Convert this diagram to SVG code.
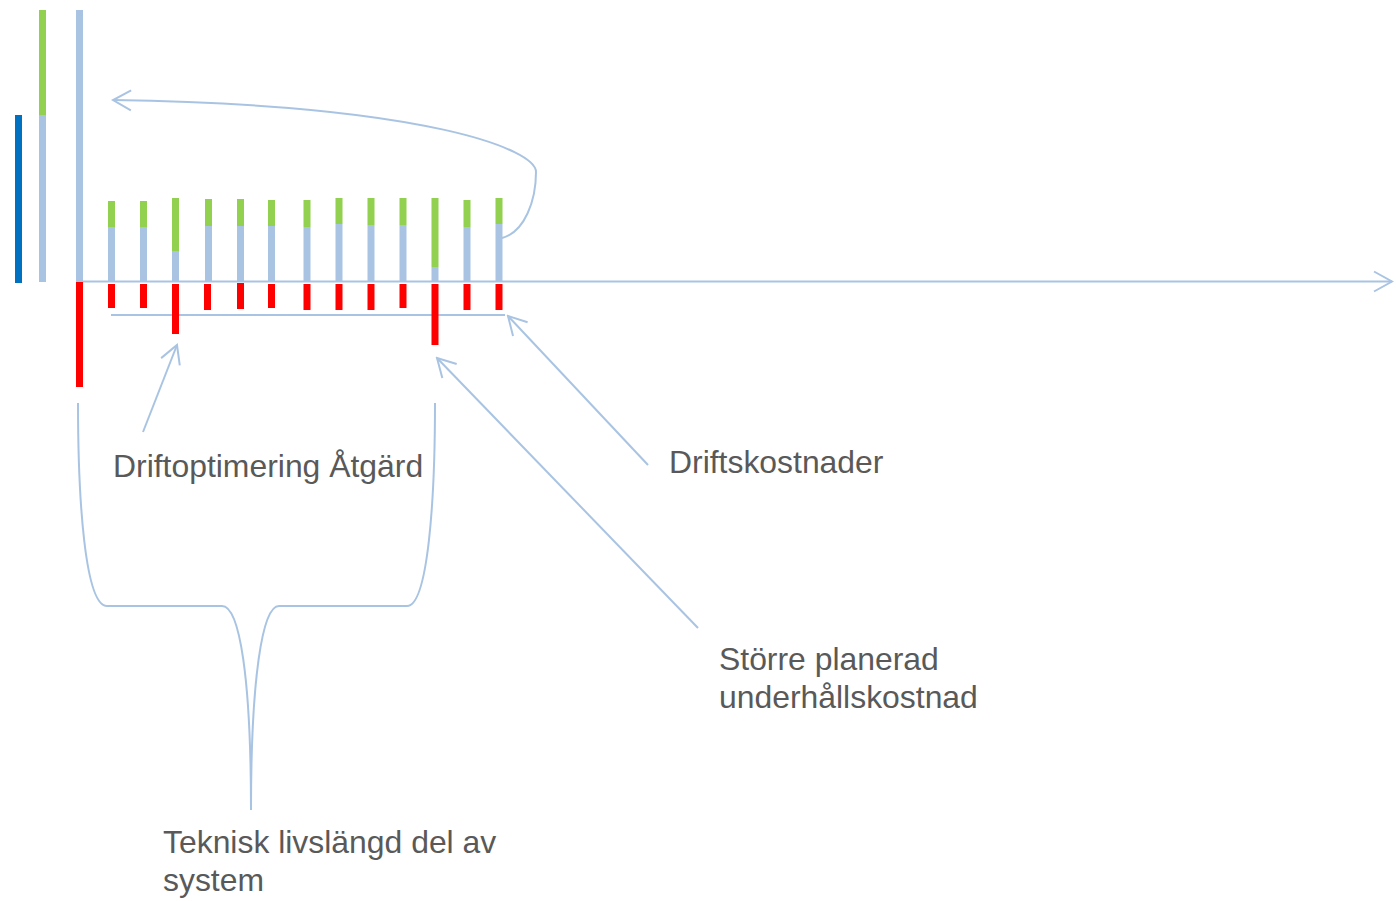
<svg xmlns="http://www.w3.org/2000/svg" width="1396" height="901" viewBox="0 0 1396 901">
<defs>
<style>
.lb{fill:#A9C4E2}
.gr{fill:#92D050}
.rd{fill:#FF0000}
.db{fill:#0070C0}
.ln{fill:none;stroke:#A9C4E2;stroke-width:2}
.tx{font-family:"Liberation Sans",Arial,sans-serif;font-size:31.9px;fill:#595959}
</style>
<marker id="ah" viewBox="-20 -12 22 24" refX="0" refY="0" markerWidth="22" markerHeight="24" markerUnits="userSpaceOnUse" orient="auto">
<path d="M-18,-10 L0,0 L-18,10" fill="none" stroke="#A9C4E2" stroke-width="2"/>
</marker>
</defs>
<rect width="1396" height="901" fill="#FFFFFF"/>

<g id="connectors">
<line class="ln" x1="82" y1="281.5" x2="1392" y2="281.5" marker-end="url(#ah)"/>
<line class="ln" x1="111" y1="315" x2="505" y2="315"/>
<path class="ln" d="M502,238 C525,232 536,200 536,172 C536,150 430,105 113,100" marker-end="url(#ah)"/>
<line class="ln" x1="648" y1="465" x2="508" y2="316" marker-end="url(#ah)"/>
<line class="ln" x1="698" y1="628" x2="437" y2="358" marker-end="url(#ah)"/>
<line class="ln" x1="143" y1="432" x2="177" y2="345" marker-end="url(#ah)"/>
<path class="ln" d="M78,403 C78,500 85,606 107,606 L222,606 C240,606 251,680 251,810"/>
<path class="ln" d="M435,403 C435,500 428,606 407,606 L279,606 C262,606 251,680 251,810"/>
</g>

<g id="left-bars">
<rect class="db" x="15" y="115" width="7" height="168"/>
<rect class="lb" x="39" y="115" width="7" height="167"/>
<rect class="gr" x="39" y="10" width="7" height="105"/>
<rect class="lb" x="76" y="10" width="7" height="272"/>
<rect class="rd" x="76" y="282" width="7" height="105"/>
</g>

<g id="bars">
<g id="b1"><rect class="gr" x="108" y="201" width="7" height="26"/><rect class="lb" x="108" y="227" width="7" height="54"/><rect class="rd" x="108" y="284" width="7" height="24"/></g>
<g id="b2"><rect class="gr" x="140" y="201" width="7" height="26"/><rect class="lb" x="140" y="227" width="7" height="54"/><rect class="rd" x="140" y="284" width="7" height="24"/></g>
<g id="b3"><rect class="gr" x="172" y="198" width="7" height="53"/><rect class="lb" x="172" y="251" width="7" height="30"/><rect class="rd" x="172" y="284" width="7" height="50"/></g>
<g id="b4"><rect class="gr" x="205" y="199" width="7" height="27"/><rect class="lb" x="205" y="226" width="7" height="55"/><rect class="rd" x="204" y="284" width="7" height="26"/></g>
<g id="b5"><rect class="gr" x="237" y="199" width="7" height="27"/><rect class="lb" x="237" y="226" width="7" height="55"/><rect class="rd" x="237" y="283" width="7" height="26"/></g>
<g id="b6"><rect class="gr" x="268" y="200" width="7" height="26"/><rect class="lb" x="268" y="226" width="7" height="55"/><rect class="rd" x="268" y="284" width="7" height="24"/></g>
<g id="b7"><rect class="gr" x="303.5" y="200" width="7" height="27"/><rect class="lb" x="303.5" y="227" width="7" height="54"/><rect class="rd" x="303.5" y="284" width="7" height="26"/></g>
<g id="b8"><rect class="gr" x="335.5" y="198" width="7" height="26"/><rect class="lb" x="335.5" y="224" width="7" height="57"/><rect class="rd" x="335.5" y="284" width="7" height="26"/></g>
<g id="b9"><rect class="gr" x="367.5" y="198" width="7" height="27"/><rect class="lb" x="367.5" y="225" width="7" height="56"/><rect class="rd" x="367.5" y="284" width="7" height="26"/></g>
<g id="b10"><rect class="gr" x="399.5" y="198" width="7" height="27"/><rect class="lb" x="399.5" y="225" width="7" height="56"/><rect class="rd" x="399.5" y="284" width="7" height="24"/></g>
<g id="b11"><rect class="gr" x="431.5" y="198" width="7" height="69"/><rect class="lb" x="431.5" y="267" width="7" height="14"/><rect class="rd" x="431.5" y="284" width="7" height="61"/></g>
<g id="b12"><rect class="gr" x="463.5" y="200" width="7" height="27"/><rect class="lb" x="463.5" y="227" width="7" height="54"/><rect class="rd" x="463.5" y="284" width="7" height="26"/></g>
<g id="b13"><rect class="gr" x="495.5" y="198" width="7" height="26"/><rect class="lb" x="495.5" y="224" width="7" height="57"/><rect class="rd" x="495.5" y="284" width="7" height="26"/></g>
</g>

<g id="label-driftoptimering"><text class="tx" x="113" y="477">Driftoptimering Åtgärd</text></g>
<g id="label-driftskostnader"><text class="tx" x="669" y="473">Driftskostnader</text></g>
<g id="label-storre"><text class="tx" x="719" y="670">Större planerad</text><text class="tx" x="719" y="708">underhållskostnad</text></g>
<g id="label-teknisk"><text class="tx" x="163" y="853">Teknisk livslängd del av</text><text class="tx" x="163" y="891">system</text></g>
</svg>
